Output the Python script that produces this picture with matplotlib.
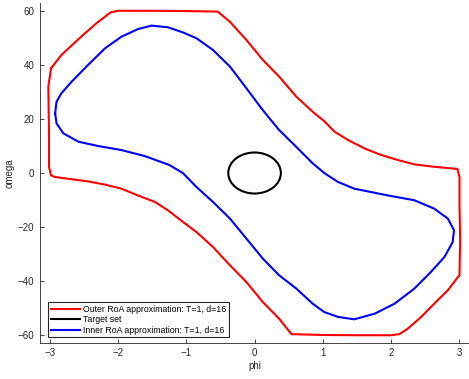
import numpy as np
import matplotlib
matplotlib.use("Agg")
from matplotlib import pyplot as plt
from matplotlib.lines import Line2D
from matplotlib.patches import Ellipse

# outer RoA approximation (closed curve, clockwise from upper-left corner)
outer_phi = [-2.98, -2.83, -2.54, -2.32, -2.11, -2.00, -1.50, -1.00, -0.54,
             -0.36, -0.12, 0.12, 0.36, 0.61, 0.85, 1.02, 1.17, 1.37, 1.61,
             1.85, 2.10, 2.34, 2.63, 2.97, 3.00, 3.00, 3.01, 3.00, 2.96,
             2.83, 2.63, 2.44, 2.24, 2.12, 2.00, 1.50, 1.00, 0.54,
             0.36, 0.12, -0.12, -0.36, -0.61, -0.85, -1.05, -1.27, -1.46,
             -1.71, -1.95, -2.19, -2.44, -2.68, -2.92, -2.98, -3.01, -3.01,
             -3.02, -2.98]
outer_omega = [38.8, 43.7, 50.5, 55.4, 59.5, 60.1, 60.1, 60.0, 59.8,
               56.0, 49.3, 41.9, 35.7, 28.3, 22.7, 19.2, 15.3, 12.2, 9.1,
               6.7, 4.8, 3.2, 2.3, 1.5, -1.5, -11.9, -24.3, -37.9, -39.1,
               -43.4, -48.4, -53.3, -57.7, -59.7, -60.1, -60.1, -60.0, -59.7,
               -54.0, -47.8, -40.4, -34.2, -27.4, -21.9, -18.1, -13.8, -10.7,
               -8.3, -5.8, -4.3, -3.1, -2.3, -1.5, -0.9, 2.3, 14.8,
               32.0, 38.8]

# inner RoA approximation (closed curve, clockwise from leftmost point)
inner_phi = [-2.92, -2.90, -2.83, -2.68, -2.44, -2.19, -1.95, -1.71, -1.51,
             -1.27, -1.05, -0.85, -0.61, -0.36, -0.12, 0.12, 0.36, 0.61, 0.85,
             1.02, 1.22, 1.46, 1.95, 2.34, 2.63, 2.83, 2.92, 2.90, 2.78,
             2.58, 2.34, 2.05, 1.76, 1.46, 1.22, 1.02, 0.85, 0.61, 0.36,
             0.12, -0.12, -0.36, -0.61, -0.85, -1.05, -1.25, -1.61, -1.95,
             -2.29, -2.58, -2.80, -2.90, -2.92]
inner_omega = [22.1, 26.4, 29.5, 33.8, 40.0, 46.2, 50.5, 53.3, 54.6,
               54.0, 52.1, 49.9, 45.6, 39.4, 31.4, 23.3, 15.9, 9.7, 3.6,
               0.0, -3.3, -5.8, -8.3, -10.1, -13.2, -16.9, -21.2, -25.6, -31.1,
               -36.7, -42.8, -48.4, -52.1, -54.2, -53.3, -51.5, -48.4, -42.8, -37.9,
               -31.7, -24.3, -16.9, -10.7, -5.2, 0.0, 3.0, 6.3, 8.5,
               10.0, 11.6, 14.7, 18.4, 22.1]

# target set (ellipse in phi/omega)
target_center = (0.0, 0.0)
target_rphi = 0.385
target_romega = 7.6

labels = ["Outer RoA approximation: T=1, d=16",
          "Target set",
          "Inner RoA approximation: T=1, d=16"]

plt.rcParams['font.family'] = ['Liberation Sans', 'DejaVu Sans']

fig = plt.figure(figsize=(4.69, 3.79), dpi=100)
ax = fig.add_axes([0.0853, 0.096, 0.915, 0.895])

ax.plot(outer_phi, outer_omega, color="#ff0000", lw=1.5)
ax.add_patch(Ellipse(target_center, 2 * target_rphi, 2 * target_romega,
                     fill=False, edgecolor="black", lw=1.5))
ax.plot(inner_phi, inner_omega, color="#0000ff", lw=1.5)

ax.set_xlim(-np.pi, np.pi)
ax.set_ylim(-20 * np.pi, 20 * np.pi)
ax.set_xticks([-3, -2, -1, 0, 1, 2, 3])
ax.set_yticks([-60, -40, -20, 0, 20, 40, 60])
ax.tick_params(direction="in", length=3, width=0.6, labelsize=7,
               colors="#262626", pad=4)
for s in ["top", "right"]:
    ax.spines[s].set_visible(False)
for s in ["left", "bottom"]:
    ax.spines[s].set_color("#262626")
    ax.spines[s].set_linewidth(0.6)

ax.set_xlabel("phi", fontsize=7, color="#262626", labelpad=2)
ax.set_ylabel("omega", fontsize=7, color="#262626", labelpad=2)

handles = [Line2D([], [], color="#ff0000", lw=1.5),
           Line2D([], [], color="black", lw=1.5),
           Line2D([], [], color="#0000ff", lw=1.5)]
leg = ax.legend(handles, labels, loc="lower left", bbox_to_anchor=(0.019, 0.016),
                fontsize=6.3, handlelength=3.3, handletextpad=0.4,
                borderpad=0.3, labelspacing=0.15, fancybox=False,
                framealpha=1, borderaxespad=0)
leg.get_frame().set_edgecolor("#262626")
leg.get_frame().set_linewidth(0.8)

plt.savefig("out.png", dpi=100)
